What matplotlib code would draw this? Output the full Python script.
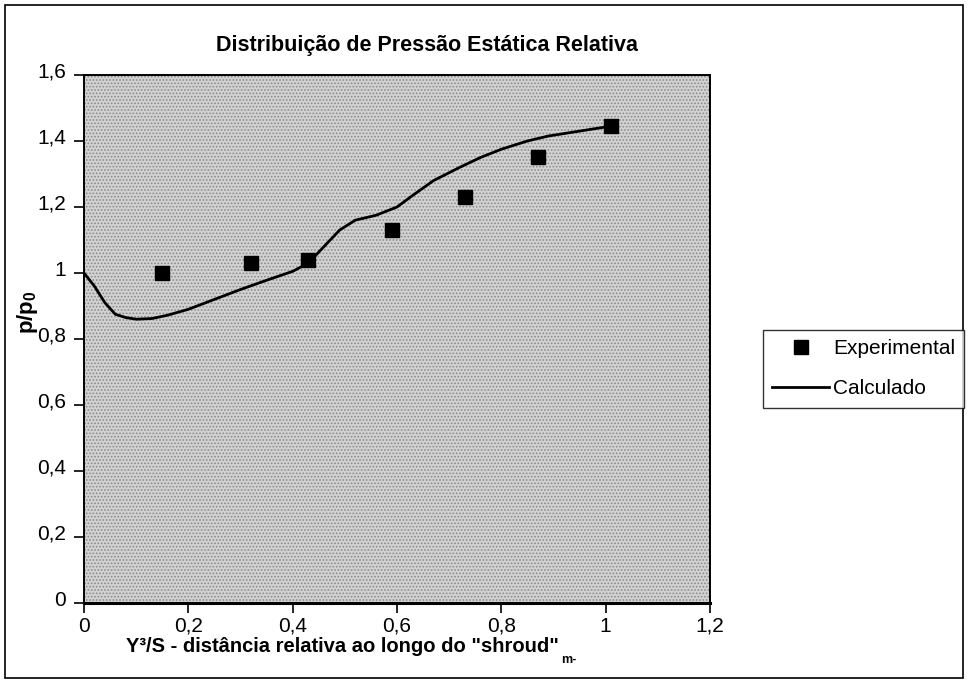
import matplotlib
matplotlib.use("Agg")
import matplotlib.pyplot as plt
import matplotlib.transforms as mtransforms
from matplotlib.patches import Rectangle
from matplotlib import font_manager as fm

# ---- data ----
exp_x = [0.15, 0.32, 0.43, 0.59, 0.73, 0.87, 1.01]
exp_y = [1.00, 1.03, 1.04, 1.13, 1.23, 1.35, 1.445]

calc_x = [0.00, 0.02, 0.04, 0.06, 0.08, 0.10, 0.13, 0.16, 0.20, 0.25, 0.30,
          0.35, 0.40, 0.43, 0.46, 0.49, 0.52, 0.56, 0.60, 0.63, 0.67, 0.72,
          0.76, 0.80, 0.85, 0.89, 0.95, 1.01]
calc_y = [1.00, 0.96, 0.91, 0.875, 0.865, 0.86, 0.862, 0.872, 0.89, 0.92, 0.95,
          0.978, 1.005, 1.03, 1.08, 1.13, 1.16, 1.175, 1.20, 1.235, 1.28, 1.32,
          1.35, 1.375, 1.40, 1.415, 1.43, 1.445]

x_ticks = [0, 0.2, 0.4, 0.6, 0.8, 1.0, 1.2]
x_tick_labels = ["0", "0,2", "0,4", "0,6", "0,8", "1", "1,2"]
y_ticks = [0, 0.2, 0.4, 0.6, 0.8, 1.0, 1.2, 1.4, 1.6]
y_tick_labels = ["0", "0,2", "0,4", "0,6", "0,8", "1", "1,2", "1,4", "1,6"]

title = "Distribuição de Pressão Estática Relativa"
xlabel = 'Y³/S - distância relativa ao longo do "shroud"'
ylabel = "p/p$_0$"

plt.rcParams['font.family'] = ['Liberation Sans', 'DejaVu Sans']
plt.rcParams['mathtext.fontset'] = 'custom'
plt.rcParams['mathtext.rm'] = 'Liberation Sans'
plt.rcParams['mathtext.bf'] = 'Liberation Sans:bold'
plt.rcParams['mathtext.default'] = 'regular'
plt.rcParams['hatch.linewidth'] = 0.8

# condensed bold font if available, otherwise shrink regular bold
try:
    _f = fm.findfont(fm.FontProperties(family='Liberation Sans Narrow', weight='bold'),
                     fallback_to_default=False)
    has_narrow = 'Narrow' in _f
except Exception:
    has_narrow = False
if has_narrow:
    narrow = ['Liberation Sans Narrow', 'Liberation Sans', 'DejaVu Sans']
    title_fs, xlab_fs = 17, 16
else:
    narrow = ['Liberation Sans', 'DejaVu Sans']
    title_fs, xlab_fs = 15.5, 14.5

W, H = 968, 683
fig = plt.figure(figsize=(W / 100, H / 100), dpi=100)
fig.patch.set_facecolor('white')

# outer chart border
fig.patches.append(Rectangle((5 / W, 5 / H), (963 - 5) / W, (678 - 5) / H,
                             transform=fig.transFigure, fill=False,
                             edgecolor='black', linewidth=1.2))

ax = fig.add_axes([84 / W, (H - 603) / H, (710 - 84) / W, (603 - 75) / H])
ax.set_facecolor('#d2d2d2')
ax.add_patch(Rectangle((0, 0), 1, 1, transform=ax.transAxes, facecolor='none',
                       hatch='.....', edgecolor='#8a8a8a', linewidth=0, zorder=0))

ax.plot(calc_x, calc_y, color='black', linewidth=2.0, label='Calculado', zorder=3)
ax.plot(exp_x, exp_y, linestyle='none', marker='s', markersize=10,
        color='black', label='Experimental', zorder=4)

ax.set_xlim(0, 1.2)
ax.set_ylim(0, 1.6)
ax.set_xticks(x_ticks)
ax.set_xticklabels(x_tick_labels)
ax.set_yticks(y_ticks)
ax.set_yticklabels(y_tick_labels)
ax.tick_params(axis='both', direction='out', length=7, width=1.2,
               labelsize=15, colors='black')
ax.tick_params(axis='x', pad=3)
ax.tick_params(axis='y', pad=6)
up = mtransforms.ScaledTranslation(0, 5 / 100, fig.dpi_scale_trans)
for lab in ax.get_yticklabels():
    lab.set_transform(lab.get_transform() + up)
for s in ax.spines.values():
    s.set_linewidth(1.4)
    s.set_color('black')
ax.spines['bottom'].set_linewidth(2.2)

fig.text(427 / W, 1 - 45 / H, title, ha='center', va='center',
         fontsize=title_fs, fontweight='bold', family=narrow)
fig.text(342 / W, 1 - 646 / H, xlabel, ha='center', va='center',
         fontsize=xlab_fs, fontweight='bold', family=narrow)
fig.text(561 / W, 1 - 660 / H, "m-", ha='left', va='center',
         fontsize=9, fontweight='bold', family=narrow)
fig.text(27 / W, 1 - 312 / H, ylabel, ha='center', va='center', rotation=90,
         fontsize=16, fontweight='bold')

handles, labels = ax.get_legend_handles_labels()
leg = fig.legend([handles[1], handles[0]], [labels[1], labels[0]],
                 loc='upper left', bbox_to_anchor=(763 / W, 1 - 330 / H),
                 fontsize=15, frameon=True, fancybox=False, handlelength=2.7,
                 handletextpad=0.2, borderpad=0.45, labelspacing=1.0,
                 borderaxespad=0)
leg.get_frame().set_edgecolor('black')
leg.get_frame().set_linewidth(1.0)

fig.savefig('out.png', dpi=100)
